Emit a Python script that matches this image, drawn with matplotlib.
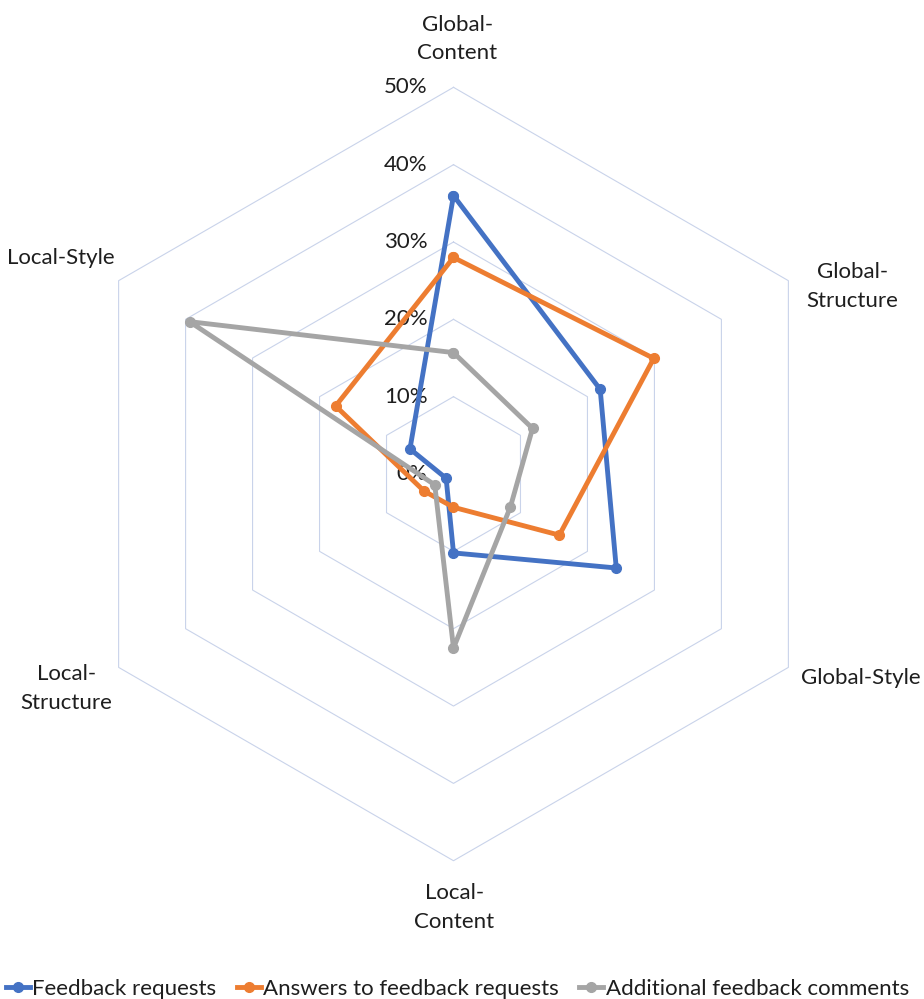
import matplotlib.pyplot as plt
import numpy as np

plt.rcParams["font.family"] = ["Lato", "DejaVu Sans"]

# data (fractions, 0.5 = 50%)
categories = ["Global-\nContent", "Global-\nStructure", "Global-Style",
              "Local-\nContent", "Local-\nStructure", "Local-Style"]
feedback_requests = [0.360, 0.219, 0.243, 0.102, 0.011, 0.065]
answers_to_requests = [0.280, 0.299, 0.158, 0.043, 0.044, 0.176]
additional_comments = [0.157, 0.118, 0.085, 0.225, 0.028, 0.394]
series_names = ["Feedback requests", "Answers to feedback requests",
                "Additional feedback comments"]
tick_values = [0.0, 0.1, 0.2, 0.3, 0.4, 0.5]
tick_labels = ["0%", "10%", "20%", "30%", "40%", "50%"]

COLORS = ["#4472C4", "#ED7D31", "#A5A5A5"]
GRID_COLOR = "#C9D3EA"
TEXT_COLOR = "#1E1E1E"
FONT_SIZE = 16

# label placement around the hexagon: (dx, dy) in pixels, ha, va
LABEL_STYLE = [((4, 24), "center", "bottom"),
               ((18, -6), "left", "center"),
               ((13, -11), "left", "center"),
               ((1, -22), "center", "top"),
               ((-6, -21), "right", "center"),
               ((-4, 23), "right", "center")]


def closed(values):
    return list(values) + [values[0]]


fig = plt.figure(figsize=(9.24, 9.99), dpi=100)
ax = fig.add_axes([0.0723, 0.1384, 0.837, 0.7742], projection="polar")
ax.set_theta_offset(np.pi / 2)
ax.set_theta_direction(-1)
ax.set_ylim(0, 0.5)
ax.set_xticks([])
ax.set_yticks([])
ax.grid(False)
ax.spines["polar"].set_visible(False)
ax.patch.set_alpha(0)

angles = np.linspace(0, 2 * np.pi, len(categories), endpoint=False)
theta = closed(list(angles))

# hexagonal gridlines
for v in tick_values[1:]:
    ax.plot(theta, [v] * len(theta), color=GRID_COLOR, lw=0.8,
            zorder=1, clip_on=False)

handles = []
for vals, name, col in zip([feedback_requests, answers_to_requests, additional_comments],
                           series_names, COLORS):
    h, = ax.plot(theta, closed(vals), color=col, lw=3.5, marker="o", ms=7,
                 solid_joinstyle="round", label=name, zorder=3, clip_on=False)
    handles.append(h)

for v, lab in zip(tick_values, tick_labels):
    ax.annotate(lab, xy=(0, v), xytext=(-26, 0), textcoords="offset pixels",
                ha="right", va="center", fontsize=FONT_SIZE, color=TEXT_COLOR,
                zorder=2)

for ang, cat, (off, ha, va) in zip(angles, categories, LABEL_STYLE):
    ax.annotate(cat, xy=(ang, 0.5), xytext=off, textcoords="offset pixels",
                ha=ha, va=va, multialignment="center", linespacing=1.55,
                fontsize=FONT_SIZE, color=TEXT_COLOR, annotation_clip=False)

fig.legend(handles=handles, loc="lower center", bbox_to_anchor=(0.495, -0.02),
           ncol=3, frameon=False, fontsize=FONT_SIZE, handlelength=1.1,
           handletextpad=0.1, columnspacing=0.9, numpoints=1,
           labelcolor=TEXT_COLOR)

fig.savefig("out.png", dpi=100)
